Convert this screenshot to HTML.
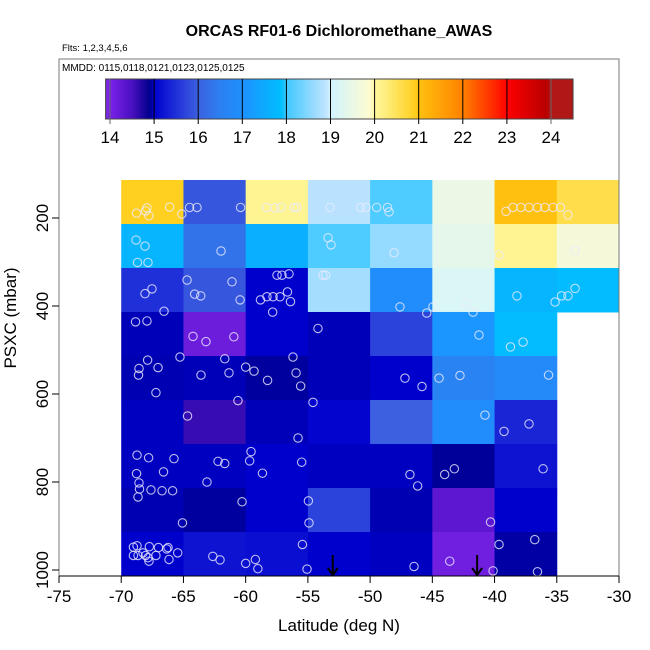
<!DOCTYPE html>
<html><head><meta charset="utf-8"><style>
body{margin:0;background:#fff;}
svg{display:block;font-family:"Liberation Sans",sans-serif;}
</style></head><body>
<svg id="c" width="650" height="650" viewBox="0 0 650 650"></svg>
<script>
const latEdges=[-70,-65,-60,-55,-50,-45,-40,-35,-30];
const presEdges=[113.6,213.6,313.6,413.6,513.6,613.6,713.6,813.6,913.6,1013.6];
const cellValues=[
[20.9,15.9,20.1,18.85,18.1,19.5,21.0,20.6],
[17.7,16.3,17.6,18.1,18.6,19.4,20.1,19.7],
[15.5,15.9,15.0,18.7,16.9,19.2,17.7,17.85],
[14.97,14.15,15.0,14.97,15.7,17.1,17.85,null],
[14.96,14.97,14.93,14.97,15.0,16.6,16.8,null],
[14.98,14.6,14.97,15.05,16.0,16.9,15.4,null],
[14.98,14.98,15.0,14.98,14.98,14.92,15.2,null],
[14.96,14.93,15.0,15.7,14.96,14.3,15.0,null],
[15.0,15.2,15.15,15.0,14.98,14.1,14.94,null]];
const pointLat=[-68.77,-67.93,-68.04,-67.77,-66.11,-65.13,-64.51,-63.91,-60.41,-58.32,-57.67,-57.16,-56.12,-55.87,-53.22,-50.77,-50.33,-49.47,-48.6,-48.48,-39.08,-38.52,-37.88,-37.23,-36.55,-35.95,-35.3,-34.7,-34.1,
-68.81,-68.09,-68.69,-67.85,-61.98,-53.38,-53.14,-48.08,-39.64,-33.53,
-64.71,-61.1,-64.1,-63.61,-60.45,-67.53,-68.09,-66.56,-57.48,-57.08,-56.52,-56.64,-58.29,-57.8,-57.24,-58.81,-56.4,-57.83,-53.79,-53.57,-47.6,-44.95,-45.45,-42.29,-41.73,-38.2,-35.14,-34.62,-34.1,-33.53,
-68.85,-67.93,-64.23,-63.19,-60.95,-54.19,-41.25,-38.72,-37.71,
-67.88,-68.57,-68.61,-67.04,-65.28,-63.59,-61.68,-61.34,-60.0,-59.33,-56.2,-55.95,-42.78,-35.66,-67.21,-58.24,-55.58,-47.2,-45.83,-44.46,
-60.62,-64.67,-54.59,-55.79,-40.77,-39.24,-37.23,
-68.73,-67.8,-65.76,-68.77,-66.6,-68.57,-68.53,-68.65,-67.61,-66.72,-65.87,-62.22,-61.68,-63.11,-59.57,-59.68,-58.65,-55.5,-46.8,-46.18,-44.01,-43.23,-36.1,
-60.29,-65.08,-54.96,-54.91,-40.32,
-69.02,-68.73,-67.74,-67.01,-66.24,-66.35,-65.46,-69.02,-68.65,-68.04,-67.85,-67.21,-66.16,-68.25,-67.77,
-62.64,-62.06,-60.0,-59.22,-59.02,-55.44,-55.07,-46.47,-43.6,-40.12,-39.64,-36.77,-36.55];
const pointPres=[189,177,184,195,175,191,176,176,176,176,177,176,176,176,176,176,176,176,176,186,185,176,176,176,176,176,176,176,193,
250,264,301,301,275,245,261,279,284,273,
341,345,373,377,386,361,372,412,330,330,327,368,379,379,379,386,390,414,330,330,402,402,416,392,414,377,391,377,377,360,
436,434,469,481,470,451,466,493,482,
523,542,557,540,516,557,520,552,539,548,516,552,558,557,597,569,582,564,583,564,
615,650,619,700,648,685,668,
739,745,747,781,777,802,816,834,818,820,820,753,758,800,731,752,780,755,783,809,783,770,770,
845,893,843,893,891,
948,945,947,949,949,952,961,967,967,967,972,967,976,961,980,
969,977,985,976,997,942,998,992,980,1002,942,931,1004];
const arrowLat=[-53.0,-41.4];
const xTicks=[-75,-70,-65,-60,-55,-50,-45,-40,-35,-30];
const yTicks=[200,400,600,800,1000];
const cbTicks=[14,15,16,17,18,19,20,21,22,23,24];

const stops=[[13.9,"#7f2be0"],[14.0,"#7a22e8"],[14.5,"#4a10c0"],[14.9,"#00008b"],[15.0,"#0000cd"],[15.5,"#2030d8"],[16.0,"#3c60e0"],[16.5,"#2c80f0"],[17.0,"#1e90ff"],[17.9,"#00bfff"],[18.0,"#40c8ff"],[18.9,"#c0e4ff"],[19.0,"#d0f4ff"],[19.9,"#fffbd0"],[20.0,"#fff8a0"],[20.9,"#ffd020"],[21.0,"#ffc010"],[21.9,"#ff8800"],[22.0,"#ff8000"],[22.9,"#ff1000"],[23.0,"#ff0000"],[23.9,"#b80000"],[24.0,"#b01818"],[24.5,"#b01818"]];
function hx(c){return [1,3,5].map(i=>parseInt(c.substr(i,2),16));}
function col(v){
 if(v<=stops[0][0])return stops[0][1];
 for(let i=1;i<stops.length;i++){if(v<=stops[i][0]){const a=hx(stops[i-1][1]),b=hx(stops[i][1]);const t=(v-stops[i-1][0])/(stops[i][0]-stops[i-1][0]);return "rgb("+a.map((x,k)=>Math.round(x+(b[k]-x)*t)).join(",")+")";}}
 return stops[stops.length-1][1];
}
const X=lat=>59+(lat+75)*560/45;
const Y=p=>218+(p-200)*0.44;
const CB=v=>110+(v-14)*44.1;
const svg=document.getElementById('c');const NS="http://www.w3.org/2000/svg";
function mk(t,a,parent){const e=document.createElementNS(NS,t);for(const k in a)e.setAttribute(k,a[k]);(parent||svg).appendChild(e);return e;}

const cells=mk('g',{});


cellValues.forEach((row,r)=>row.forEach((v,c)=>{if(v===null)return;
 const e=mk('rect',{x:X(latEdges[c]),y:Y(presEdges[r]),width:X(latEdges[c+1])-X(latEdges[c])+0.5,height:Y(presEdges[r+1])-Y(presEdges[r])+0.5,fill:col(v)},cells);
 
 
}));
const pts=mk('g',{fill:'none',stroke:'rgba(235,235,255,0.8)','stroke-width':1.1});


pointLat.forEach((la,i)=>{const e=mk('circle',{cx:X(la),cy:Y(pointPres[i]),r:4.2},pts);
 
 });
arrowLat.forEach(la=>{const g=mk('g',{stroke:'#000','stroke-width':2,fill:'none'});
 
 
 const x=X(la);mk('line',{x1:x,y1:555,x2:x,y2:575},g);mk('path',{d:`M${x-5},${568} L${x},${575} L${x+5},${568}`},g);});
const box=mk('rect',{x:59,y:59,width:560,height:517,fill:'none',stroke:'#777','stroke-width':1});


const cb=mk('g',{});


for(let v=13.9;v<24.5;v+=0.05){mk('rect',{x:CB(v),y:79,width:44.1*0.05+0.4,height:40,fill:col(v+0.025)},cb);}
mk('rect',{x:CB(13.9),y:79,width:CB(24.5)-CB(13.9),height:40,fill:'none',stroke:'#444'},cb);
cbTicks.forEach(t=>{mk('line',{x1:CB(t),y1:79,x2:CB(t),y2:124,stroke:t===14||t===24?'#666':'#000','stroke-width':1},cb);
 const tx=mk('text',{x:CB(t),y:143,'font-size':17,'text-anchor':'middle',fill:'#000'},cb);tx.textContent=t;
 
 });
const ax=mk('g',{stroke:'#000','stroke-width':1});


mk('line',{x1:X(-75),y1:576,x2:X(-30),y2:576},ax);
xTicks.forEach(t=>{mk('line',{x1:X(t),y1:576,x2:X(t),y2:583},ax);
 const tx=mk('text',{x:X(t),y:602,'font-size':17,'text-anchor':'middle',stroke:'none',fill:'#000'},ax);tx.textContent=t;
 
 });
const ay=mk('g',{stroke:'#000','stroke-width':1});


yTicks.forEach(t=>{mk('line',{x1:52,y1:Y(t),x2:59,y2:Y(t)},ay);
 const tx=mk('text',{x:48,y:Y(t),'font-size':17,'text-anchor':'middle',stroke:'none',fill:'#000',transform:`rotate(-90 48 ${Y(t)})`},ay);tx.textContent=t;
 
 });
function txt(s,a,name){const e=mk('text',a);e.textContent=s;}
txt('ORCAS RF01-6 Dichloromethane_AWAS',{x:339,y:36,'font-size':16,'font-weight':'bold','text-anchor':'middle'},'chart-title');
txt('Flts: 1,2,3,4,5,6',{x:62,y:51,'font-size':9.5},'flights-label');
txt('MMDD: 0115,0118,0121,0123,0125,0125',{x:62,y:71,'font-size':10},'dates-label');
txt('Latitude (deg N)',{x:339,y:631,'font-size':17,'text-anchor':'middle'},'x-axis-title');
txt('PSXC (mbar)',{x:16,y:318,'font-size':17,'text-anchor':'middle',transform:'rotate(-90 16 318)'},'y-axis-title');
</script>
</body></html>
